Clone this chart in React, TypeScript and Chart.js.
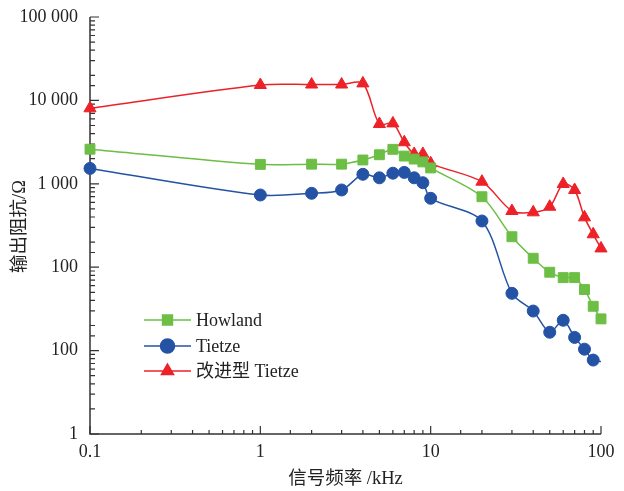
import React, { useEffect, useRef } from "react";
import { Chart, registerables } from "chart.js";
import { drawPoint } from "chart.js/helpers";

Chart.register(...registerables);

// ---- data ----
const freqs = [0.1, 1, 2, 3, 4, 5, 6, 7, 8, 9, 10, 20, 30, 40, 50, 60, 70, 80, 90, 100];
const howland = [2600, 1710, 1720, 1720, 1930, 2230, 2590, 2150, 1980, 1830, 1550, 700, 232, 128, 87, 75, 75, 54, 34, 24];
const tietze = [1530, 734, 769, 843, 1300, 1180, 1340, 1370, 1180, 1030, 670, 358, 48.6, 29.8, 16.6, 23.1, 14.4, 10.4, 7.7, 7.4];
const improved = [8040, 15300, 15500, 15500, 16000, 5210, 5300, 3150, 2280, 2280, 1760, 1060, 472, 455, 531, 995, 843, 396, 248, 168];
const seriesNames = ["Howland", "Tietze", "改进型 Tietze"];
const xDecades = [0.1, 1, 10, 100];
const xTickLabels = ["0.1", "1", "10", "100"];
const yDecades = [1, 10, 100, 1000, 10000, 100000];
const yTickLabels = ["1", "100", "100", "1 000", "10 000", "100 000"];
const xTitle = "信号频率 /kHz";
const yTitle = "输出阻抗/Ω";

const GREEN = "#6cbe45";
const BLUE = "#2453a5";
const RED = "#ec2228";
const AXIS = "#333333";
const FONT = "'Liberation Serif', 'Times New Roman', 'Noto Sans CJK SC', serif";

const isDecade = (v: number) => Math.abs(Math.log10(v) - Math.round(Math.log10(v))) < 1e-6;
const findLabel = (v: number, decs: number[], labels: string[]) => {
  for (let i = 0; i < decs.length; i++) {
    if (Math.abs(Math.log10(v) - Math.log10(decs[i])) < 1e-6) return labels[i];
  }
  return "";
};

const axesPlugin = {
  id: "customAxes",
  beforeDatasetsDraw(chart: any) {
    const { ctx, chartArea } = chart;
    const { left, right, top, bottom } = chartArea;
    const xs = chart.scales.x;
    const ys = chart.scales.y;
    ctx.save();
    ctx.strokeStyle = AXIS;
    ctx.lineWidth = 1.5;
    ctx.beginPath();
    ctx.moveTo(left, top);
    ctx.lineTo(left, bottom);
    ctx.lineTo(right, bottom);
    ctx.stroke();
    ctx.lineWidth = 1.2;
    ctx.beginPath();
    for (const t of xs.ticks) {
      const px = xs.getPixelForValue(t.value);
      if (px < left - 0.5 || px > right + 0.5) continue;
      const len = isDecade(t.value) ? 8 : 4;
      ctx.moveTo(px, bottom);
      ctx.lineTo(px, bottom - len);
    }
    for (const t of ys.ticks) {
      const py = ys.getPixelForValue(t.value);
      if (py < top - 0.5 || py > bottom + 0.5) continue;
      const len = isDecade(t.value) ? 9 : 5;
      ctx.moveTo(left, py);
      ctx.lineTo(left + len, py);
    }
    ctx.stroke();

    // axis titles
    ctx.fillStyle = "#222";
    ctx.font = `18.5px ${FONT}`;
    ctx.textAlign = "center";
    ctx.textBaseline = "middle";
    ctx.fillText(xTitle, (left + right) / 2, bottom + 45);
    ctx.save();
    ctx.translate(left - 70, (top + bottom) / 2 + 1);
    ctx.rotate(-Math.PI / 2);
    ctx.fillText(yTitle, 0, 0);
    ctx.restore();
    ctx.restore();
  },
  afterDraw(chart: any) {
    const { ctx, chartArea } = chart;
    const { left, top } = chartArea;
    const x0 = left + 54;
    const x1 = left + 101;
    const rows = [top + 303, top + 329, top + 354];
    ctx.save();
    chart.data.datasets.forEach((ds: any, i: number) => {
      const y = rows[i];
      ctx.strokeStyle = ds.borderColor;
      ctx.lineWidth = ds.borderWidth;
      ctx.beginPath();
      ctx.moveTo(x0, y);
      ctx.lineTo(x1, y);
      ctx.stroke();
      ctx.fillStyle = ds.pointBackgroundColor;
      ctx.strokeStyle = ds.pointBorderColor;
      drawPoint(ctx, { pointStyle: ds.pointStyle, radius: 7, rotation: 0, borderWidth: 1 }, (x0 + x1) / 2, y);
      ctx.fillStyle = "#222";
      ctx.font = `18px ${FONT}`;
      ctx.textAlign = "left";
      ctx.textBaseline = "middle";
      ctx.fillText(ds.label, x1 + 5, y + 1);
    });
    ctx.restore();
  },
};

const zeroPad = (s: any) => {
  s.paddingTop = 0;
  s.paddingBottom = 0;
  s.paddingLeft = 0;
  s.paddingRight = 0;
};

export default function App() {
  const ref = useRef<HTMLCanvasElement | null>(null);
  useEffect(() => {
    if (!ref.current) return;
    const mk = (vals: number[]) => freqs.map((f, i) => ({ x: f, y: vals[i] }));
    const chart = new Chart(ref.current, {
      type: "line",
      data: {
        datasets: [
          {
            label: seriesNames[0],
            data: mk(howland),
            borderColor: GREEN,
            backgroundColor: GREEN,
            pointBackgroundColor: GREEN,
            pointBorderColor: GREEN,
            borderWidth: 1.5,
            pointStyle: "rect",
            pointRadius: 7,
            pointBorderWidth: 1,
            tension: 0.3,
            clip: false,
          },
          {
            label: seriesNames[1],
            data: mk(tietze),
            borderColor: BLUE,
            backgroundColor: BLUE,
            pointBackgroundColor: BLUE,
            pointBorderColor: BLUE,
            borderWidth: 1.5,
            pointStyle: "circle",
            pointRadius: freqs.map((_, i) => (i === freqs.length - 1 ? 0 : 6)),
            pointBorderWidth: 1,
            tension: 0.3,
            clip: false,
          },
          {
            label: seriesNames[2],
            data: mk(improved),
            borderColor: RED,
            backgroundColor: RED,
            pointBackgroundColor: RED,
            pointBorderColor: RED,
            borderWidth: 1.5,
            pointStyle: "triangle",
            pointRadius: 7,
            pointBorderWidth: 1,
            tension: 0.3,
            clip: false,
          },
        ] as any,
      },
      options: {
        animation: false,
        responsive: true,
        maintainAspectRatio: false,
        layout: { padding: { top: 17, right: 23, left: 0, bottom: 0 } },
        plugins: { legend: { display: false }, tooltip: { enabled: false } },
        scales: {
          x: {
            type: "logarithmic",
            min: 0.1,
            max: 100,
            grid: { display: false, drawTicks: false, tickLength: 0 },
            border: { display: false },
            ticks: {
              autoSkip: false,
              maxRotation: 0,
              padding: 7,
              color: "#222",
              font: { family: FONT, size: 18 },
              callback: (v: any) => findLabel(Number(v), xDecades, xTickLabels),
            },
            afterFit: (s: any) => {
              s.height = 57;
              zeroPad(s);
            },
          },
          y: {
            type: "logarithmic",
            min: 1,
            max: 100000,
            grid: { display: false, drawTicks: false, tickLength: 0 },
            border: { display: false },
            ticks: {
              autoSkip: false,
              padding: 12,
              color: "#222",
              font: { family: FONT, size: 18, lineHeight: 1 },
              callback: (v: any) => findLabel(Number(v), yDecades, yTickLabels),
            },
            afterFit: (s: any) => {
              s.width = 90;
              zeroPad(s);
            },
          },
        },
      },
      plugins: [axesPlugin],
    });
    return () => chart.destroy();
  }, []);
  return (
    <div style={{ position: "absolute", left: 0, top: 0, width: 624, height: 491, overflow: "hidden" }}>
      <canvas ref={ref} />
    </div>
  );
}
